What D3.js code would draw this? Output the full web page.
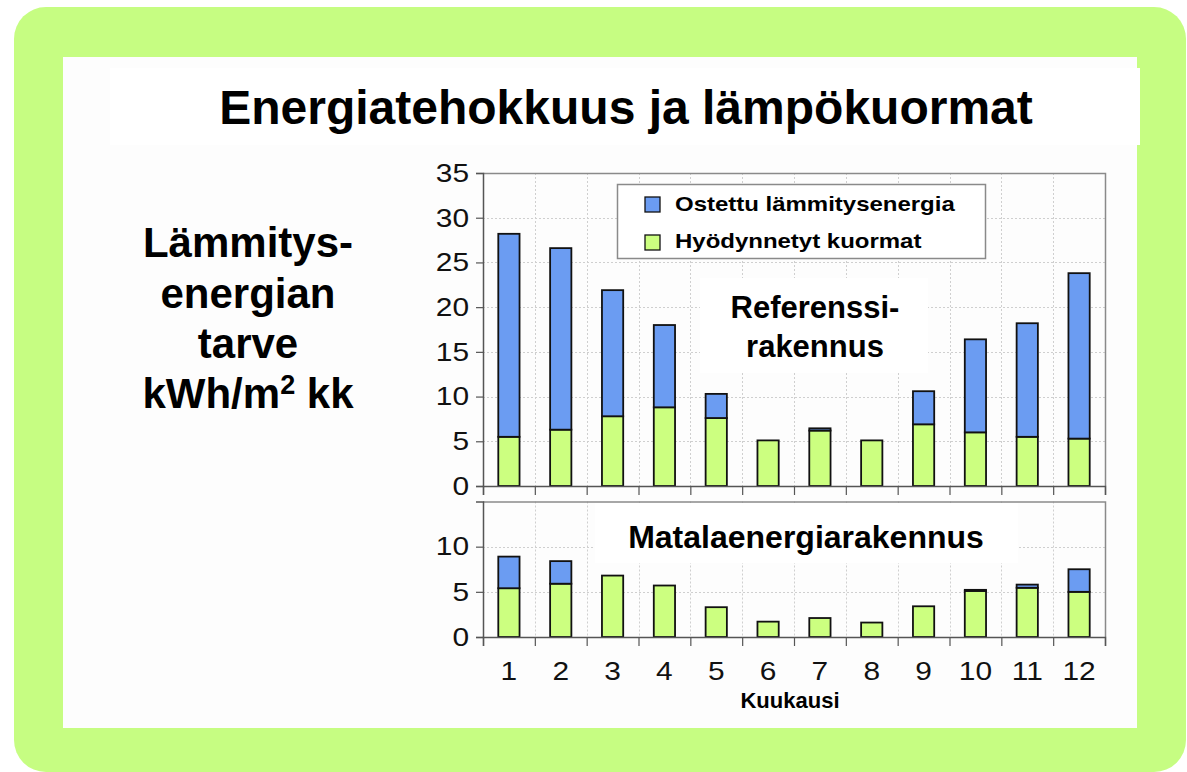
<!DOCTYPE html>
<html>
<head>
<meta charset="utf-8">
<script src="https://cdn.jsdelivr.net/npm/d3@7/dist/d3.min.js"></script>
<style>
    body { margin: 0; background: #ffffff; }
    svg { display: block; font-family: "Liberation Sans", Arial, sans-serif; }
</style>
</head>
<body>
<div id="chart"></div>
<script>
const months = [1, 2, 3, 4, 5, 6, 7, 8, 9, 10, 11, 12];
const seriesNames = ["Ostettu lämmitysenergia", "Hyödynnetyt kuormat"];

// Referenssirakennus, kWh/m2 per kk
const refLoads = [5.5, 6.3, 7.8, 8.8, 7.6, 5.1, 6.2, 5.1, 6.9, 6.0, 5.5, 5.3];
const refPurchased = [22.7, 20.3, 14.1, 9.2, 2.7, 0, 0.25, 0, 3.7, 10.4, 12.7, 18.5];

// Matalaenergiarakennus
const lowLoads = [5.4, 5.9, 6.8, 5.7, 3.3, 1.7, 2.1, 1.6, 3.4, 5.1, 5.45, 5.0];
const lowPurchased = [3.5, 2.5, 0, 0, 0, 0, 0, 0, 0, 0.12, 0.35, 2.5];

const refTicks = [0, 5, 10, 15, 20, 25, 30, 35];
const lowTicks = [0, 5, 10];

const colors = { purchased: "#6b9cf2", loads: "#ccff80" };

const W = 1187, H = 772;
const left = 483, right = 1105;

const svg = d3.select("#chart")
    .append("svg")
    .attr("width", W)
    .attr("height", H);

// green frame + white slide
svg.append("rect")
    .attr("x", 14).attr("y", 7)
    .attr("width", 1172).attr("height", 765)
    .attr("rx", 32)
    .attr("fill", "#c6fd82");
svg.append("rect")
    .attr("x", 63).attr("y", 57)
    .attr("width", 1074).attr("height", 671)
    .attr("fill", "#fdfdfd");
svg.append("rect")
    .attr("x", 110).attr("y", 68)
    .attr("width", 1030).attr("height", 77)
    .attr("fill", "#ffffff");

svg.append("text")
    .attr("x", 626).attr("y", 124)
    .attr("text-anchor", "middle")
    .style("font-size", "48px")
    .style("font-weight", "bold")
    .text("Energiatehokkuus ja lämpökuormat");

const sideLines = ["Lämmitys-", "energian", "tarve"];
const side = svg.append("text")
    .attr("text-anchor", "middle")
    .style("font-size", "42px")
    .style("font-weight", "bold");
sideLines.forEach((s, i) => {
    side.append("tspan").attr("x", 248).attr("y", 257 + i * 50.5).text(s);
});
const unit = side.append("tspan").attr("x", 248).attr("y", 408);
unit.append("tspan").text("kWh/m");
unit.append("tspan").attr("dy", -14).style("font-size", "27px").text("2");
unit.append("tspan").attr("dy", 14).text(" kk");

const x = d3.scaleBand()
    .domain(months)
    .range([left, right])
    .padding(0);

const xEdges = d3.scaleLinear()
    .domain([0, months.length])
    .range([left, right]);

const barW = x.bandwidth() * 0.41;

function stretchText(sel, k) {
    sel.each(function() {
        const t = d3.select(this);
        const tx = +t.attr("x") || 0;
        t.attr("transform", `translate(${tx * (1 - k)},0) scale(${k},1)`);
    });
}

function drawPanel(loads, purchased, yMax, ticks, top, bottom, showLabels, boxes) {
    const y = d3.scaleLinear()
        .domain([0, yMax])
        .range([bottom, top]);

    const g = svg.append("g");

    // grid
    g.selectAll(".hg")
        .data(ticks.filter(t => t > 0 && t < yMax))
        .enter()
        .append("line")
        .attr("x1", left).attr("x2", right)
        .attr("y1", d => Math.round(y(d)) + 0.5)
        .attr("y2", d => Math.round(y(d)) + 0.5)
        .attr("stroke", "#cfcfcf")
        .attr("stroke-dasharray", "2,2");

    g.selectAll(".vg")
        .data(d3.range(1, months.length))
        .enter()
        .append("line")
        .attr("x1", d => Math.round(xEdges(d)) + 0.5)
        .attr("x2", d => Math.round(xEdges(d)) + 0.5)
        .attr("y1", top).attr("y2", bottom)
        .attr("stroke", "#cfcfcf")
        .attr("stroke-dasharray", "2,2");

    // white label backgrounds
    boxes.forEach(b => {
        g.append("rect")
            .attr("x", b[0]).attr("y", b[1])
            .attr("width", b[2]).attr("height", b[3])
            .attr("fill", "#ffffff");
    });

    const table = months.map((m, i) => ({ month: m, loads: loads[i], purchased: purchased[i] }));
    const stack = d3.stack().keys(["loads", "purchased"])(table);

    g.selectAll(".layer")
        .data(stack)
        .enter()
        .append("g")
        .attr("fill", d => colors[d.key])
        .selectAll("rect")
        .data(d => d.filter(p => p[1] - p[0] > 0))
        .enter()
        .append("rect")
        .attr("x", d => x(d.data.month) + (x.bandwidth() - barW) / 2)
        .attr("y", d => y(d[1]))
        .attr("width", barW)
        .attr("height", d => y(d[0]) - y(d[1]))
        .attr("stroke", "#111")
        .attr("stroke-width", 1.8);

    // plot frame
    g.append("path")
        .attr("d", `M${left},${top + 0.5}H${right + 0.5}V${bottom}`)
        .attr("fill", "none")
        .attr("stroke", "#8a8a8a")
        .attr("stroke-width", 1.5);

    const yAxis = g.append("g")
        .attr("transform", `translate(${left},0)`)
        .call(d3.axisLeft(y).tickValues(ticks).tickSize(7).tickPadding(7));

    const xAxis = g.append("g")
        .attr("transform", `translate(0,${bottom})`)
        .call(d3.axisBottom(xEdges).ticks(months.length).tickSize(9).tickFormat(""));

    [yAxis, xAxis].forEach(a => {
        a.select(".domain").attr("stroke", "#555").attr("stroke-width", 1.5);
        a.selectAll(".tick line").attr("stroke", "#555").attr("stroke-width", 1.2);
    });
    yAxis.selectAll("text")
        .style("font-size", "26px")
        .attr("fill", "#111")
        .call(stretchText, 1.15);

    if (showLabels) {
        const lab = g.append("g")
            .attr("transform", `translate(0,${bottom})`)
            .call(d3.axisBottom(x).tickSize(0).tickPadding(25));
        lab.select(".domain").remove();
        lab.selectAll("text")
            .style("font-size", "26px")
            .attr("fill", "#111")
            .call(stretchText, 1.15);
    }
    return g;
}

const topPanel = drawPanel(refLoads, refPurchased, 35, refTicks, 173, 486, false,
    [[617, 184, 369, 75], [700, 278, 228, 95]]);
drawPanel(lowLoads, lowPurchased, 15, lowTicks, 501.5, 637, true,
    [[595, 503, 423, 60]]);

// legend
const legend = topPanel.append("g");
legend.append("rect")
    .attr("x", 617.5).attr("y", 184.5)
    .attr("width", 368).attr("height", 74)
    .attr("fill", "#ffffff")
    .attr("stroke", "#8a8a8a")
    .attr("stroke-width", 1.5);

const legendKeys = ["purchased", "loads"];
legendKeys.forEach((k, i) => {
    legend.append("rect")
        .attr("x", 645).attr("y", 197 + i * 38)
        .attr("width", 15).attr("height", 15)
        .attr("fill", colors[k])
        .attr("stroke", "#111")
        .attr("stroke-width", 1.3);
    legend.append("text")
        .attr("x", 675).attr("y", 211 + i * 37)
        .style("font-size", "20.5px")
        .style("font-weight", "bold")
        .text(seriesNames[i])
        .call(stretchText, 1.17);
});

const refLabel = topPanel.append("text")
    .attr("text-anchor", "middle")
    .style("font-size", "31px")
    .style("font-weight", "bold");
refLabel.append("tspan").attr("x", 815).attr("y", 318).text("Referenssi-");
refLabel.append("tspan").attr("x", 815).attr("y", 357).text("rakennus");

svg.append("text")
    .attr("x", 806).attr("y", 548)
    .attr("text-anchor", "middle")
    .style("font-size", "32px")
    .style("font-weight", "bold")
    .text("Matalaenergiarakennus");

svg.append("text")
    .attr("x", 790).attr("y", 708)
    .attr("text-anchor", "middle")
    .style("font-size", "22px")
    .style("font-weight", "bold")
    .text("Kuukausi");
</script>
</body>
</html>
